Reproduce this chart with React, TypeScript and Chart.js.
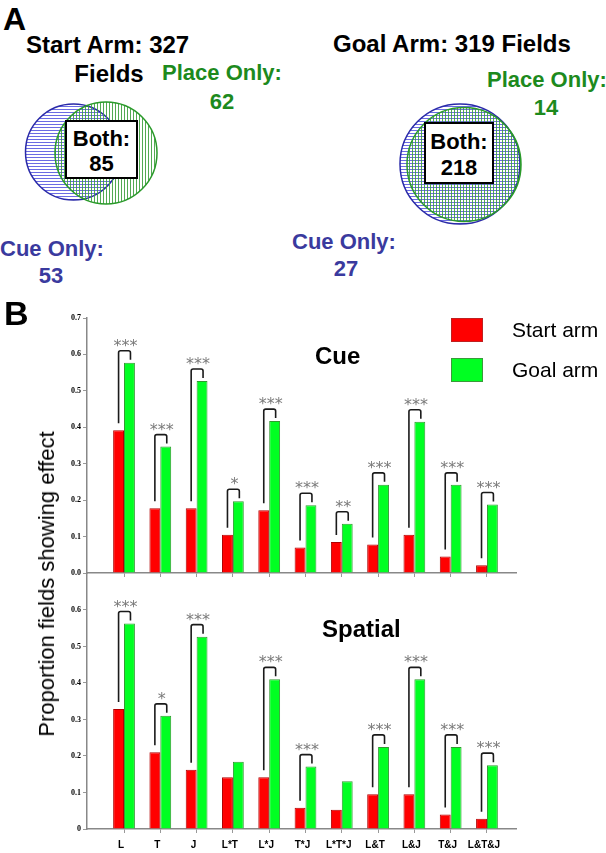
import React, { useEffect, useRef } from 'react';
import { Chart, registerables } from 'chart.js';
Chart.register(...registerables);

// ---------- data ----------
const categories = ['L', 'T', 'J', 'L*T', 'L*J', 'T*J', 'L*T*J', 'L&T', 'L&J', 'T&J', 'L&T&J'];
const cueStart = [0.392, 0.178, 0.178, 0.105, 0.172, 0.07, 0.085, 0.078, 0.105, 0.045, 0.021];
const cueGoal = [0.577, 0.347, 0.527, 0.197, 0.417, 0.186, 0.135, 0.242, 0.415, 0.242, 0.188];
const cueSig = ['***', '***', '***', '*', '***', '***', '**', '***', '***', '***', '***'];
const spatialStart = [0.329, 0.21, 0.162, 0.142, 0.142, 0.058, 0.053, 0.095, 0.095, 0.04, 0.028];
const spatialGoal = [0.563, 0.31, 0.527, 0.184, 0.41, 0.171, 0.131, 0.225, 0.41, 0.225, 0.175];
const spatialSig = ['***', '*', '***', '', '***', '***', '', '***', '***', '***', '***'];
const yTickValues = [0, 0.1, 0.2, 0.3, 0.4, 0.5, 0.6, 0.7];
const cueTickLabels = ['0.0', '0.1', '0.2', '0.3', '0.4', '0.5', '0.6', '0.7'];
const spatialTickLabels = ['0', '0.1', '0.2', '0.3', '0.4', '0.5', '0.6', ''];
const seriesNames = ['Start arm', 'Goal arm'];

const startArm = { total: 327, cueOnly: 53, both: 85, placeOnly: 62 };
const goalArm = { total: 319, cueOnly: 27, both: 218, placeOnly: 14 };

const RED = '#ff0000';
const GREEN = '#00ff22';
const BLUE_TXT = '#3a3a9e';
const GREEN_TXT = '#1d8a1d';
const SANS = '"Liberation Sans", Arial, sans-serif';

function bracketPlugin(sig: string[]) {
  return {
    id: 'brackets',
    afterDatasetsDraw(chart: any) {
      const ctx = chart.ctx;
      const mr = chart.getDatasetMeta(0);
      const mg = chart.getDatasetMeta(1);
      ctx.save();
      sig.forEach((s, i) => {
        if (!s) return;
        const r = mr.data[i];
        const g = mg.data[i];
        const xr = r.x;
        const xg = g.x + 1;
        const top = Math.min(r.y, g.y) - 12;
        ctx.beginPath();
        ctx.moveTo(xr, r.y - 7);
        ctx.lineTo(xr, top + 2);
        ctx.arcTo(xr, top, xr + 2, top, 2);
        ctx.lineTo(xg - 2, top);
        ctx.arcTo(xg, top, xg, top + 2, 2);
        ctx.lineTo(xg, g.y - 3);
        ctx.strokeStyle = '#1a1a1a';
        ctx.lineWidth = 1.6;
        ctx.stroke();
        ctx.font = '16px "DejaVu Sans"';
        ctx.fillStyle = '#7a7a7a';
        ctx.textAlign = 'center';
        ctx.textBaseline = 'alphabetic';
        const m = ctx.measureText(s);
        ctx.fillText(s, (xr + xg) / 2 + 1, top - 4 - m.actualBoundingBoxDescent);
      });
      ctx.restore();
    },
  };
}

type PanelProps = {
  start: number[];
  goal: number[];
  sig: string[];
  tickLabels: string[];
  showX: boolean;
  top: number;
  height: number;
  padTop: number;
  xHeight: number;
};

function BarPanel(p: PanelProps) {
  const ref = useRef<HTMLCanvasElement>(null);
  useEffect(() => {
    const chart = new Chart(ref.current as HTMLCanvasElement, {
      type: 'bar',
      data: {
        datasets: [
          {
            label: seriesNames[0],
            data: p.start.map((v, i) => ({ x: i, y: v })),
            backgroundColor: RED,
            borderColor: '#b00000',
            borderWidth: 1,
          },
          {
            label: seriesNames[1],
            data: p.goal.map((v, i) => ({ x: i, y: v })),
            backgroundColor: GREEN,
            borderColor: '#2f9a2f',
            borderWidth: 1,
          },
        ],
      } as any,
      options: {
        animation: false,
        responsive: false,
        devicePixelRatio: 1,
        categoryPercentage: 0.6,
        barPercentage: 1.0,
        layout: { padding: { top: p.padTop, right: 90, left: 0, bottom: 0 } },
        plugins: { legend: { display: false }, tooltip: { enabled: false } },
        scales: {
          x: {
            type: 'linear',
            offset: false,
            min: -1.02,
            max: 10.8,
            afterBuildTicks: (s: any) => {
              s.ticks = categories.map((_, i) => ({ value: i }));
            },
            afterFit: (s: any) => {
              s.height = p.xHeight;
            },
            ticks: {
              autoSkip: false,
              maxRotation: 0,
              padding: 6,
              labelOffset: -3,
              color: '#000',
              font: { family: SANS, size: 10, weight: 'bold' },
              callback: (_v: any, i: number) => (p.showX ? categories[i] : ''),
            },
            grid: { offset: false, drawOnChartArea: false, tickLength: 4, color: '#999' },
            border: { color: '#888', width: 1.5 },
          },
          y: {
            min: 0,
            max: 0.7,
            afterBuildTicks: (s: any) => {
              s.ticks = yTickValues.map((v) => ({ value: v }));
            },
            afterFit: (s: any) => {
              s.width = 87;
            },
            ticks: {
              padding: 2,
              color: '#000',
              font: { family: '"Liberation Serif", serif', size: 8, weight: 'bold' },
              callback: (_v: any, i: number) => p.tickLabels[i],
            },
            grid: { drawOnChartArea: false, tickLength: 4, color: '#999' },
            border: { color: '#888', width: 1.5 },
          },
        },
      } as any,
      plugins: [bracketPlugin(p.sig)],
    });
    return () => chart.destroy();
  }, []);
  return (
    <canvas
      ref={ref}
      width={606}
      height={p.height}
      style={{ position: 'absolute', left: 0, top: p.top, width: 606, height: p.height, display: 'block' }}
    />
  );
}

function T(props: { x: number; y: number; s: number; c?: string; a?: string; children: any; w?: number }) {
  return (
    <text
      x={props.x}
      y={props.y}
      fontSize={props.s}
      fontWeight={props.w ?? 700}
      fill={props.c ?? '#000'}
      textAnchor={(props.a as any) ?? 'middle'}
      dominantBaseline="central"
      fontFamily={SANS}
    >
      {props.children}
    </text>
  );
}

function Venn(props: {
  bx: number; by: number; br: number;
  gx: number; gy: number; gr: number;
  box: [number, number, number, number];
  both: number;
}) {
  const [x0, y0, x1, y1] = props.box;
  const cx = (x0 + x1) / 2;
  return (
    <g>
      <circle cx={props.bx} cy={props.by} r={props.br} fill="url(#hblue)" stroke="#2a2aa8" strokeWidth={1.5} />
      <circle cx={props.gx} cy={props.gy} r={props.gr} fill="url(#vgreen)" stroke="#2a9a2a" strokeWidth={1.5} />
      <rect x={x0} y={y0} width={x1 - x0} height={y1 - y0} fill="#fff" stroke="#000" strokeWidth={2} />
      <T x={cx} y={y0 + (y1 - y0) * 0.3} s={22}>Both:</T>
      <T x={cx} y={y0 + (y1 - y0) * 0.74} s={22}>{props.both}</T>
    </g>
  );
}

function PanelA() {
  return (
    <svg width={606} height={290} style={{ position: 'absolute', left: 0, top: 0 }}>
      <defs>
        <pattern id="hblue" width="4" height="3" patternUnits="userSpaceOnUse">
          <line x1="0" y1="1.5" x2="4" y2="1.5" stroke="#5a5ae0" strokeWidth="0.9" />
        </pattern>
        <pattern id="vgreen" width="3" height="4" patternUnits="userSpaceOnUse">
          <line x1="1.5" y1="0" x2="1.5" y2="4" stroke="#3fa03f" strokeWidth="0.9" />
        </pattern>
      </defs>
      <text x={3} y={30} fontSize={32} fontWeight={700} fontFamily={SANS}>A</text>
      <T x={26} y={44} s={24} a="start">{`Start Arm: ${startArm.total}`}</T>
      <T x={109} y={73} s={24}>Fields</T>
      <T x={222} y={72} s={22} c={GREEN_TXT}>Place Only:</T>
      <T x={222} y={101} s={22} c={GREEN_TXT}>{startArm.placeOnly}</T>
      <Venn bx={73.5} by={152} br={48} gx={106} gy={153} gr={51} box={[66, 121, 137, 178]} both={startArm.both} />
      <T x={0} y={248} s={22} a="start" c={BLUE_TXT}>Cue Only:</T>
      <T x={51} y={275} s={22} c={BLUE_TXT}>{startArm.cueOnly}</T>

      <T x={333} y={43} s={24} a="start">{`Goal Arm: ${goalArm.total} Fields`}</T>
      <T x={487} y={79} s={22} a="start" c={GREEN_TXT}>Place Only:</T>
      <T x={546} y={107} s={22} c={GREEN_TXT}>{goalArm.placeOnly}</T>
      <Venn bx={460} by={164} br={60} gx={464} gy={164.5} gr={57} box={[425, 123, 493, 183]} both={goalArm.both} />
      <T x={292} y={241} s={22} a="start" c={BLUE_TXT}>Cue Only:</T>
      <T x={346} y={268} s={22} c={BLUE_TXT}>{goalArm.cueOnly}</T>
    </svg>
  );
}

export default function App() {
  return (
    <div
      style={{
        position: 'absolute',
        left: 0,
        top: 0,
        width: 606,
        height: 853,
        background: '#fff',
        overflow: 'hidden',
        fontFamily: SANS,
      }}
    >
      <PanelA />
      <BarPanel start={cueStart} goal={cueGoal} sig={cueSig} tickLabels={cueTickLabels} showX={false} top={300} height={290} padTop={18} xHeight={17} />
      <BarPanel start={spatialStart} goal={spatialGoal} sig={spatialSig} tickLabels={spatialTickLabels} showX={true} top={560} height={293} padTop={13.5} xHeight={24} />

      <div style={{ position: 'absolute', left: 4, top: 296, fontSize: 34, fontWeight: 700, lineHeight: '34px' }}>B</div>
      <div style={{ position: 'absolute', left: 315, top: 342, fontSize: 24, fontWeight: 700, lineHeight: '28px' }}>Cue</div>
      <div style={{ position: 'absolute', left: 322, top: 615, fontSize: 24, fontWeight: 700, lineHeight: '28px' }}>Spatial</div>

      <div style={{ position: 'absolute', left: 451, top: 318, width: 32, height: 24, background: RED, boxSizing: 'border-box', border: '1px solid #c02020' }} />
      <div style={{ position: 'absolute', left: 451, top: 358, width: 32, height: 24, background: GREEN, boxSizing: 'border-box', border: '1px solid #3a9a3a' }} />
      <div style={{ position: 'absolute', left: 512, top: 317, fontSize: 21, lineHeight: '26px' }}>{seriesNames[0]}</div>
      <div style={{ position: 'absolute', left: 512, top: 357, fontSize: 21, lineHeight: '26px' }}>{seriesNames[1]}</div>

      <div
        style={{
          position: 'absolute',
          left: 47,
          top: 584,
          fontSize: 22,
          lineHeight: '24px',
          whiteSpace: 'nowrap',
          transform: 'translate(-50%, -50%) rotate(-90deg)',
        }}
      >
        Proportion fields showing effect
      </div>
    </div>
  );
}
